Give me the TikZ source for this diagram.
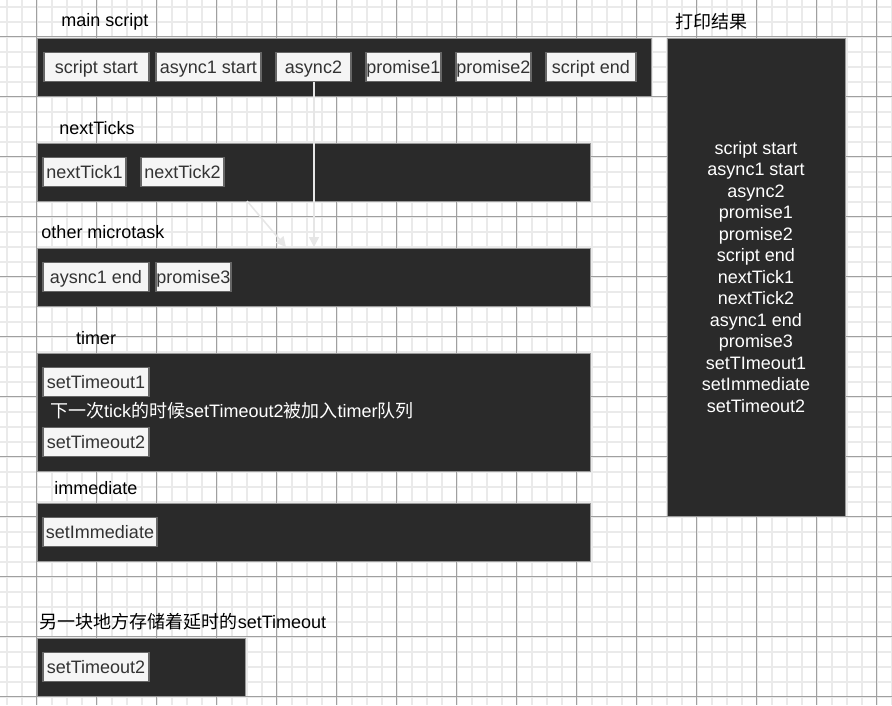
\documentclass[tikz,border=0pt]{standalone}
\usepackage{fontspec}
\setmainfont{Liberation Sans}
\newfontfamily\cjk{Noto Sans CJK SC}
\usetikzlibrary{arrows.meta}
\definecolor{darkbg}{HTML}{2A2A2A}
\definecolor{darkbd}{HTML}{9A9A9A}
\definecolor{cellbg}{HTML}{F5F5F5}
\definecolor{cellbd}{HTML}{666666}
\definecolor{celltx}{HTML}{333333}
\definecolor{gridminor}{HTML}{EAEAEA}
\definecolor{gridmajor}{HTML}{A0A0A0}
\definecolor{arrowc}{HTML}{E6E6E6}
\tikzset{
  panel/.style={draw=darkbd, fill=darkbg, line width=1pt},
  cell/.style={draw=cellbd, fill=cellbg, text=celltx, line width=1.6pt, inner sep=0pt,
    minimum height=29pt, text height=13pt, text depth=0.5pt, font=\fontsize{18}{21}\selectfont},
  lbl/.style={text=black, inner sep=0pt, font=\fontsize{18}{21}\selectfont},
  wtxt/.style={text=white, inner sep=0pt, font=\fontsize{18}{21}\selectfont},
  flow/.style={draw=arrowc, line width=1.5pt, -{Triangle[width=10pt,length=10pt]}}
}
\begin{document}
\begin{tikzpicture}[x=1pt,y=-1pt]
\useasboundingbox (0,0) rectangle (892,705);
\fill[white] (0,0) rectangle (892,705);
% grid
\foreach \i in {0,...,59} {
  \draw[gridminor, line width=2pt] ({6.5+15*\i},0) -- ({6.5+15*\i},705);
  \draw[gridminor, line width=2pt] (0,{6.5+15*\i}) -- (892,{6.5+15*\i});
}
\foreach \i in {0,...,14} {
  \draw[gridmajor, line width=1pt] ({36.5+60*\i},0) -- ({36.5+60*\i},705);
  \draw[gridmajor, line width=1pt] (0,{36.5+60*\i}) -- (892,{36.5+60*\i});
}
% panels
\draw[panel] (37,38) rectangle (651,96);
\node[lbl] (lmain) at (105,22) {main script};
\draw[panel] (37,143) rectangle (590,201);
\node[lbl] (lnext) at (97,128) {nextTicks};
\draw[panel] (37,248) rectangle (590,306);
\node[lbl] (lmicro) at (103,232) {other microtask};
\draw[panel] (37,353) rectangle (590,471);
\node[lbl] (ltimer) at (96,338) {timer};
\draw[panel] (37,503) rectangle (590,561);
\node[lbl] (limm) at (96,488) {immediate};
\draw[panel] (37,638) rectangle (245,696);
\node[lbl] (lstore) at (183,622) {{\cjk 另一块地方存储着延时的}setTimeout};
\node[panel, minimum width=178pt, minimum height=478pt, inner sep=0pt] (result) at (756,277) {};
\node[lbl] (lres) at (711,22) {\cjk 打印结果};
% main script cells
\node[cell, minimum width=105pt] (c1) at (96.5,67) {script start};
\node[cell, minimum width=105pt] (c2) at (208.5,67) {async1 start};
\node[cell, minimum width=75pt] (c3) at (313.5,67) {async2};
\node[cell, minimum width=75pt] (c4) at (403.5,67) {promise1};
\node[cell, minimum width=75pt] (c5) at (493.5,67) {promise2};
\node[cell, minimum width=90pt] (c6) at (591,67) {script end};
% nextTicks
\node[cell, minimum width=83pt] (n1) at (84.5,172) {nextTick1};
\node[cell, minimum width=83pt] (n2) at (182.5,172) {nextTick2};
% other microtask
\node[cell, minimum width=106pt] (m1) at (96,277) {aysnc1 end};
\node[cell, minimum width=75pt] (m2) at (193.5,277) {promise3};
% timer
\node[cell, minimum width=106pt] (t1) at (96,382) {setTimeout1};
\node[wtxt, anchor=west] (tnote) at (50,411) {{\cjk 下一次}tick{\cjk 的时候}setTimeout2{\cjk 被加入}timer{\cjk 队列}};
\node[cell, minimum width=106pt] (t2) at (96,442) {setTimeout2};
% immediate
\node[cell, minimum width=114pt] (i1) at (100,532) {setImmediate};
% storage
\node[cell, minimum width=106pt] (s1) at (96,667) {setTimeout2};
% result text
\node[wtxt, align=center, font=\fontsize{18}{21.5}\selectfont] (rtext) at (756,277) {script start\\async1 start\\async2\\promise1\\promise2\\script end\\nextTick1\\nextTick2\\async1 end\\promise3\\setTImeout1\\setImmediate\\setTimeout2};
% arrows
\coordinate (a1end) at (314,247);
\coordinate (a2start) at (247,201);
\coordinate (a2end) at (286,247);
\draw[flow] (c3.south -| a1end) -- (a1end);
\draw[flow] (a2start) -- (a2end);
\end{tikzpicture}
\end{document}
